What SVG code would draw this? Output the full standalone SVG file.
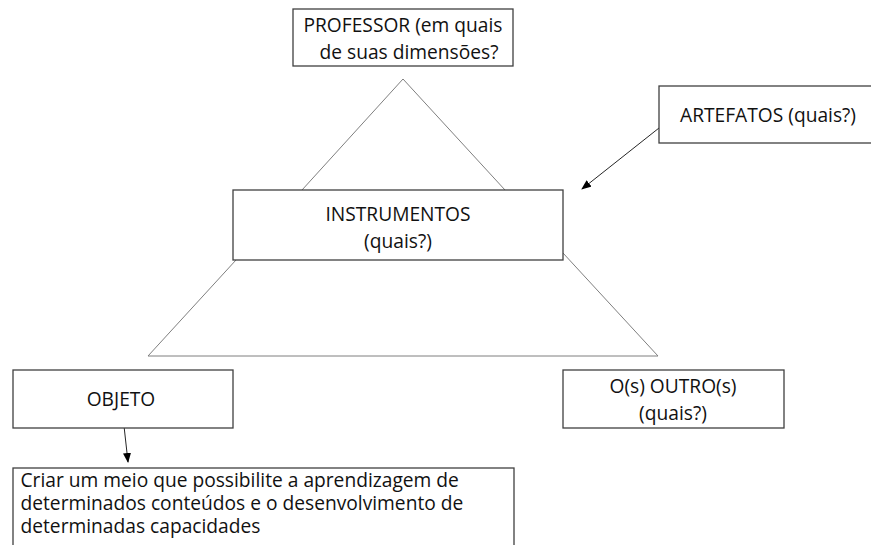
<svg xmlns="http://www.w3.org/2000/svg" width="871" height="545" viewBox="0 0 871 545">
<style>
.box{fill:#fff;stroke:#404040;stroke-width:1.3}
.edge{fill:none;stroke:#7f7f7f;stroke-width:1}
.conn{fill:none;stroke:#262626;stroke-width:1}
text{font-family:"Open Sans","Liberation Sans",sans-serif;font-size:19.2px;fill:#111}
.c{text-anchor:middle}
</style>
<defs>
<marker id="ah" markerWidth="10" markerHeight="8" refX="9" refY="4" orient="auto" markerUnits="userSpaceOnUse">
<path d="M0,0 L10,4 L0,8 Z" fill="#000"/>
</marker>
</defs>
<rect width="871" height="545" fill="#fff"/>
<g id="pyramid">
<path class="edge" d="M302,190 L403,79 L505,190"/>
<path class="edge" d="M236,260 L148,356 L658,356 L563,253"/>
</g>
<g id="connectors">
<line class="conn" x1="659" y1="128" x2="582" y2="189" marker-end="url(#ah)"/>
<line class="conn" x1="124" y1="426" x2="128" y2="462" marker-end="url(#ah)"/>
</g>
<g id="professor">
<rect class="box" x="293" y="9" width="220" height="57"/>
<text class="c" x="403" y="32">PROFESSOR (em quais</text>
<text class="c" x="409" y="59">de suas dimensões?</text>
</g>
<g id="artefatos">
<rect class="box" x="659" y="86" width="225" height="57"/>
<text class="c" x="768" y="122">ARTEFATOS (quais?)</text>
</g>
<g id="instrumentos">
<rect class="box" x="233" y="190" width="330" height="70"/>
<text class="c" x="398" y="221">INSTRUMENTOS</text>
<text class="c" x="398" y="248">(quais?)</text>
</g>
<g id="objeto">
<rect class="box" x="13" y="370" width="220" height="58"/>
<text class="c" x="121" y="406">OBJETO</text>
</g>
<g id="outros">
<rect class="box" x="563" y="370" width="221" height="58"/>
<text class="c" x="673" y="393">O(s) OUTRO(s)</text>
<text class="c" x="673" y="420">(quais?)</text>
</g>
<g id="objetivo">
<rect class="box" x="13" y="468" width="501" height="95"/>
<text x="20.5" y="486.5">Criar um meio que possibilite a aprendizagem de</text>
<text x="20.5" y="509.5">determinados conteúdos e o desenvolvimento de</text>
<text x="20.5" y="532.5">determinadas capacidades</text>
</g>
</svg>
